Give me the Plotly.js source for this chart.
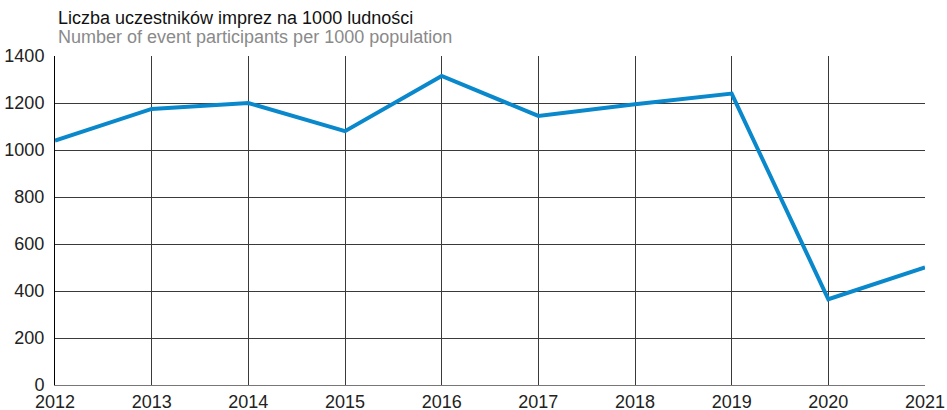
<!DOCTYPE html>
<html>
<head>
<meta charset="utf-8">
<script src="https://cdn.plot.ly/plotly-3.0.1.min.js"></script>
<style>html,body{margin:0;padding:0;background:#fff;}#chart{width:947px;height:410px;}</style>
</head>
<body>
<div id="chart"></div>
<script>
const years = [2012, 2013, 2014, 2015, 2016, 2017, 2018, 2019, 2020, 2021];
const participants = [1040, 1175, 1200, 1080, 1315, 1145, 1195, 1240, 365, 500];
const yTicks = [0, 200, 400, 600, 800, 1000, 1200, 1400];
const titlePl = 'Liczba uczestników imprez na 1000 ludności';
const titleEn = 'Number of event participants per 1000 population';

const font = 'Liberation Sans, Arial, sans-serif';
Plotly.newPlot('chart', [{
  x: years, y: participants, type: 'scatter', mode: 'lines',
  line: {color: '#0a88cc', width: 4}, hoverinfo: 'skip'
}], {
  width: 947, height: 410,
  margin: {l: 55, r: 22, t: 56, b: 25},
  paper_bgcolor: '#fff', plot_bgcolor: '#fff',
  showlegend: false,
  font: {family: font, size: 18, color: '#222'},
  xaxis: {
    range: [2012, 2021], tickvals: years, ticktext: years.map(String),
    showgrid: true, gridcolor: '#3a3a3a', gridwidth: 1,
    zeroline: false, showline: true, linecolor: '#777', linewidth: 1,
    ticks: '', ticklabelstandoff: 0, fixedrange: true
  },
  yaxis: {
    range: [0, 1400], tickvals: yTicks, ticktext: yTicks.map(String),
    showgrid: true, gridcolor: '#3a3a3a', gridwidth: 1,
    zeroline: false, showline: true, linecolor: '#000', linewidth: 1,
    ticks: '', ticklabelstandoff: 6, fixedrange: true
  },
  annotations: [
    {text: titlePl, xref: 'paper', yref: 'paper', x: 0, y: 1.1155, xanchor: 'left', yanchor: 'middle',
     xshift: 1, showarrow: false, font: {family: font, size: 18, color: '#111'}},
    {text: titleEn, xref: 'paper', yref: 'paper', x: 0, y: 1.0578, xanchor: 'left', yanchor: 'middle',
     xshift: 1, showarrow: false, font: {family: font, size: 18, color: '#8a8a8a'}}
  ]
}, {staticPlot: true});
</script>
</body>
</html>
